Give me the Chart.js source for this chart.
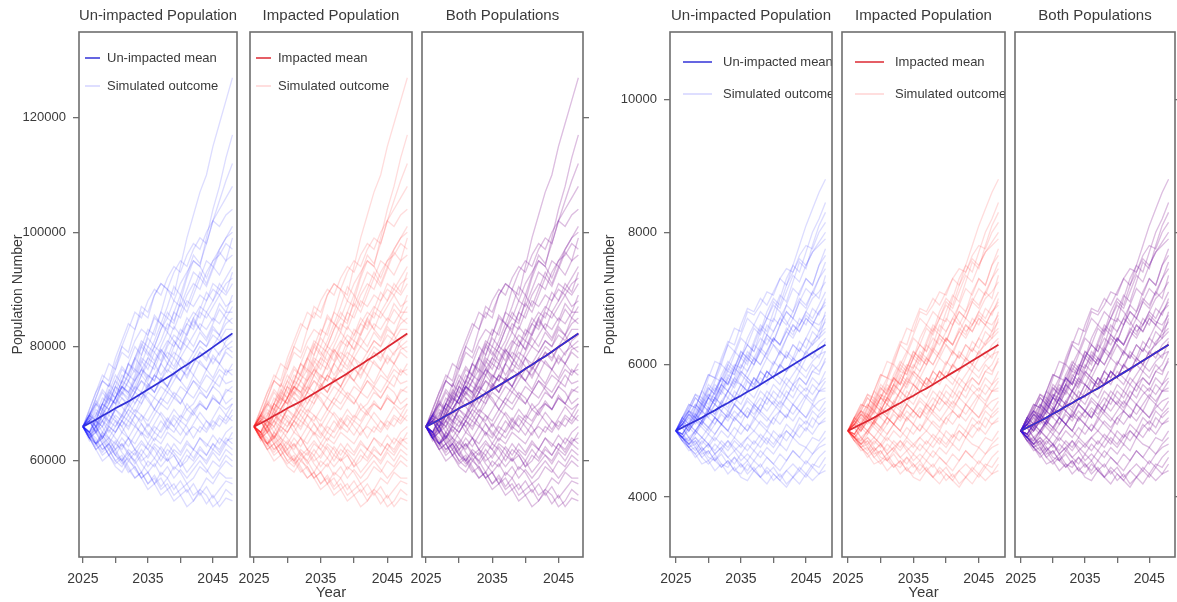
<!DOCTYPE html>
<html>
<head>
<meta charset="utf-8">
<title>Population projections</title>
<script src="https://cdn.jsdelivr.net/npm/chart.js@4"></script>
<style>
  html, body { margin: 0; padding: 0; background: #fff; overflow: hidden; }
  #wrap { position: relative; width: 1177px; height: 602px; overflow: hidden; }
  .panel { position: absolute; top: 0; }
</style>
</head>
<body>
<div id="wrap"></div>
<script>
// Years simulated and the year ticks along the bottom
const years = [2025, 2026, 2027, 2028, 2029, 2030, 2031, 2032, 2033, 2034, 2035, 2036,
               2037, 2038, 2039, 2040, 2041, 2042, 2043, 2044, 2045, 2046, 2047, 2048];
const yearTicks = [2025, 2030, 2035, 2040, 2045];
const labelledYears = [2025, 2035, 2045];

const panelTitles = ['Un-impacted Population', 'Impacted Population', 'Both Populations'];
const legendUn = ['Un-impacted mean', 'Simulated outcome'];
const legendImp = ['Impacted mean', 'Simulated outcome'];

// ---- large population ----
const largeTicks = [60000, 80000, 100000, 120000];
const largeMean = [66000, 66600, 67200, 67900, 68500, 69200, 69800, 70400, 71100, 71800, 72500, 73200,
                   73900, 74600, 75300, 76100, 76800, 77600, 78300, 79100, 79900, 80700, 81500, 82300];
const largeRuns = [
  [66000, 68000, 67000, 70000, 72000, 71000, 74000, 77000, 76000, 80000, 83000, 82000, 86000, 90000, 89000, 94000, 99000, 103000, 107000, 110000, 115000, 119000, 123000, 127000],
  [66000, 64000, 66000, 69000, 68000, 71000, 73000, 72000, 75000, 78000, 77000, 80000, 83000, 85000, 84000, 88000, 92000, 95000, 94000, 99000, 104000, 108000, 113000, 117000],
  [66000, 69000, 72000, 74000, 73000, 77000, 80000, 79000, 83000, 86000, 85000, 89000, 91000, 90000, 93000, 95000, 94000, 97000, 99000, 98000, 102000, 104000, 106000, 108000],
  [66000, 68000, 71000, 74000, 77000, 76000, 80000, 83000, 86000, 85000, 88000, 90000, 89000, 92000, 94000, 93000, 96000, 98000, 97000, 100000, 102000, 101000, 103000, 104000],
  [66000, 65000, 67000, 66000, 69000, 71000, 73000, 72000, 74000, 77000, 80000, 79000, 81000, 84000, 83000, 86000, 89000, 91000, 90000, 93000, 95000, 97000, 99000, 100000],
  [66000, 69000, 72000, 75000, 74000, 78000, 81000, 84000, 83000, 87000, 86000, 89000, 91000, 90000, 88000, 91000, 93000, 95000, 94000, 92000, 95000, 96000, 98000, 97000],
  [66000, 64000, 63000, 65000, 67000, 66000, 68000, 71000, 73000, 72000, 75000, 74000, 77000, 80000, 82000, 81000, 84000, 86000, 85000, 88000, 91000, 90000, 92000, 94000],
  [66000, 67000, 66000, 68000, 70000, 73000, 72000, 74000, 76000, 75000, 78000, 80000, 79000, 77000, 80000, 83000, 82000, 85000, 87000, 86000, 88000, 90000, 89000, 91000],
  [66000, 68000, 67000, 70000, 69000, 71000, 74000, 73000, 72000, 75000, 77000, 76000, 79000, 81000, 80000, 82000, 84000, 83000, 86000, 85000, 87000, 89000, 87000, 88000],
  [66000, 65000, 66000, 64000, 66000, 68000, 67000, 69000, 71000, 70000, 73000, 72000, 74000, 76000, 75000, 78000, 77000, 79000, 81000, 80000, 83000, 82000, 84000, 85000],
  [66000, 67000, 69000, 68000, 70000, 72000, 71000, 70000, 72000, 74000, 73000, 75000, 74000, 77000, 76000, 78000, 80000, 79000, 81000, 80000, 82000, 81000, 83000, 83000],
  [66000, 64000, 65000, 67000, 66000, 65000, 67000, 69000, 68000, 70000, 72000, 71000, 73000, 72000, 74000, 76000, 75000, 77000, 79000, 78000, 80000, 82000, 80000, 81000],
  [66000, 68000, 70000, 69000, 71000, 70000, 73000, 75000, 74000, 76000, 78000, 77000, 75000, 77000, 79000, 78000, 76000, 78000, 80000, 79000, 77000, 79000, 80000, 79000],
  [66000, 65000, 63000, 64000, 66000, 65000, 67000, 66000, 68000, 67000, 69000, 71000, 70000, 72000, 71000, 73000, 72000, 74000, 73000, 75000, 74000, 76000, 75000, 77000],
  [66000, 67000, 65000, 66000, 68000, 67000, 65000, 67000, 69000, 68000, 66000, 68000, 70000, 69000, 71000, 70000, 72000, 71000, 73000, 72000, 74000, 73000, 76000, 75000],
  [66000, 64000, 62000, 63000, 61000, 63000, 62000, 64000, 63000, 65000, 64000, 66000, 65000, 67000, 66000, 68000, 67000, 69000, 70000, 69000, 71000, 70000, 72000, 73000],
  [66000, 67000, 68000, 70000, 69000, 71000, 73000, 72000, 70000, 72000, 71000, 69000, 71000, 70000, 72000, 71000, 69000, 70000, 72000, 71000, 73000, 72000, 70000, 71000],
  [66000, 65000, 64000, 62000, 63000, 61000, 60000, 62000, 61000, 63000, 62000, 64000, 63000, 65000, 64000, 63000, 65000, 66000, 65000, 67000, 66000, 68000, 67000, 69000],
  [66000, 68000, 66000, 67000, 65000, 67000, 66000, 64000, 66000, 65000, 63000, 65000, 64000, 66000, 65000, 67000, 66000, 64000, 66000, 65000, 67000, 66000, 68000, 67000],
  [66000, 64000, 63000, 61000, 62000, 60000, 59000, 61000, 60000, 58000, 60000, 59000, 61000, 60000, 62000, 61000, 63000, 62000, 64000, 63000, 62000, 64000, 63000, 65000],
  [66000, 65000, 67000, 66000, 64000, 63000, 65000, 64000, 62000, 61000, 63000, 62000, 60000, 62000, 61000, 59000, 61000, 60000, 62000, 61000, 63000, 62000, 64000, 63000],
  [66000, 64000, 62000, 60000, 61000, 59000, 58000, 60000, 59000, 57000, 58000, 56000, 58000, 57000, 59000, 58000, 56000, 57000, 59000, 58000, 60000, 59000, 61000, 60000],
  [66000, 65000, 63000, 64000, 62000, 60000, 61000, 59000, 57000, 58000, 56000, 57000, 55000, 56000, 54000, 55000, 56000, 54000, 55000, 57000, 56000, 58000, 57000, 57000],
  [66000, 64000, 65000, 63000, 61000, 62000, 60000, 58000, 59000, 57000, 55000, 56000, 54000, 55000, 53000, 54000, 52000, 53000, 55000, 54000, 52000, 53000, 55000, 54000],
  [66000, 68000, 71000, 74000, 73000, 76000, 79000, 78000, 81000, 83000, 82000, 85000, 84000, 83000, 86000, 85000, 88000, 87000, 89000, 88000, 90000, 89000, 91000, 92000],
  [66000, 67000, 65000, 68000, 71000, 70000, 72000, 71000, 74000, 76000, 75000, 74000, 77000, 79000, 78000, 81000, 80000, 82000, 84000, 83000, 85000, 84000, 86000, 86000],
  [66000, 64000, 66000, 68000, 67000, 69000, 68000, 70000, 72000, 71000, 73000, 75000, 74000, 73000, 75000, 74000, 76000, 78000, 77000, 76000, 78000, 77000, 79000, 78000],
  [66000, 65000, 67000, 65000, 64000, 66000, 68000, 67000, 66000, 68000, 67000, 69000, 68000, 66000, 68000, 67000, 69000, 68000, 70000, 69000, 71000, 70000, 69000, 70000],
  [66000, 67000, 65000, 63000, 64000, 62000, 63000, 61000, 62000, 60000, 61000, 63000, 62000, 60000, 61000, 59000, 60000, 62000, 61000, 60000, 62000, 61000, 63000, 62000],
  [66000, 65000, 68000, 71000, 70000, 73000, 76000, 75000, 78000, 81000, 80000, 83000, 86000, 85000, 88000, 87000, 90000, 93000, 92000, 95000, 94000, 97000, 99000, 101000],
  [66000, 68500, 67000, 70000, 73500, 72000, 75000, 74000, 77500, 80000, 78500, 81000, 84000, 82500, 86000, 89000, 87000, 90000, 93000, 91000, 94000, 92500, 95000, 96000],
  [66000, 63500, 65500, 68000, 66500, 69500, 72000, 70500, 73000, 76000, 74000, 77000, 79500, 78000, 81000, 79500, 82500, 85000, 83000, 86000, 84500, 87500, 86000, 89000],
  [66000, 67500, 70000, 68500, 71500, 74000, 72500, 75500, 78000, 76500, 74500, 77000, 79500, 78000, 76500, 79000, 81500, 80000, 82500, 81000, 83500, 82000, 85000, 84000],
  [66000, 64500, 66000, 64000, 66500, 69000, 67500, 70000, 68500, 71000, 73500, 72000, 74500, 73000, 75500, 74000, 76500, 75000, 77500, 76000, 78500, 77000, 79500, 80000],
  [66000, 67500, 69500, 72000, 70500, 73000, 71500, 74000, 72500, 75000, 73500, 72000, 74500, 73000, 75500, 74000, 72500, 75000, 73500, 76000, 74500, 77000, 75500, 76000],
  [66000, 64000, 62500, 64500, 63000, 65000, 67000, 65500, 68000, 66500, 64500, 66500, 68500, 67000, 69000, 67500, 70000, 68500, 70500, 69000, 71500, 70000, 72500, 72000],
  [66000, 67000, 65000, 67000, 69000, 67500, 66000, 68000, 66500, 64500, 66500, 65000, 67000, 65500, 67500, 66000, 64500, 66500, 68500, 67000, 65500, 67500, 66500, 68000],
  [66000, 65000, 63000, 64500, 62500, 61000, 63000, 61500, 60000, 62000, 60500, 62500, 61000, 63000, 61500, 60000, 62000, 60500, 62500, 61000, 63000, 61500, 63500, 64000],
  [66000, 64500, 65500, 63500, 62000, 63500, 61500, 60000, 61500, 59500, 58000, 59500, 57500, 59000, 57000, 58500, 57000, 58500, 60000, 58500, 57000, 58500, 60000, 59000],
  [66000, 64000, 62000, 63000, 61000, 59500, 60500, 58500, 57000, 58000, 56000, 57500, 55500, 57000, 55000, 56500, 54500, 56000, 54000, 55500, 53500, 55000, 56500, 56000],
  [66000, 68000, 70500, 69000, 72000, 75000, 73500, 77000, 80000, 78500, 82000, 85500, 84000, 87000, 90500, 89000, 92500, 96000, 94500, 98000, 102000, 105500, 109000, 112000],
  [66000, 65000, 67500, 70000, 72500, 71000, 74000, 77000, 75500, 78500, 81500, 80000, 83000, 86000, 84500, 87500, 86000, 89000, 92000, 90500, 93500, 96500, 95000, 99000],
  [66000, 67500, 66000, 69000, 71500, 70000, 73000, 71500, 74500, 77500, 76000, 79000, 77500, 80500, 83500, 82000, 85000, 83500, 86500, 89500, 88000, 91000, 89500, 93000],
  [66000, 68000, 70000, 72500, 71000, 74000, 76500, 75000, 78000, 80500, 79000, 77500, 80000, 82500, 81000, 79500, 82000, 84500, 83000, 81500, 84000, 86500, 85000, 87000],
  [66000, 64500, 66500, 68500, 67000, 69000, 71000, 69500, 72000, 74000, 72500, 75000, 77000, 75500, 78000, 76500, 74500, 77000, 79000, 77500, 80000, 78500, 81000, 82000],
  [66000, 67000, 68500, 67000, 69000, 71000, 69500, 68000, 70000, 72000, 70500, 69000, 71000, 73000, 71500, 70000, 72000, 74000, 72500, 71000, 73000, 75000, 73500, 74000],
  [66000, 64500, 63000, 65000, 63500, 62000, 64000, 62500, 64500, 66500, 65000, 63500, 65500, 67500, 66000, 64500, 66500, 68500, 67000, 65500, 67500, 69500, 68000, 70000],
  [66000, 67500, 66000, 64000, 65500, 64000, 62500, 64000, 62000, 63500, 62000, 60500, 62500, 61000, 63000, 61500, 63500, 62000, 64000, 62500, 64500, 63000, 65000, 66000],
  [66000, 64500, 63000, 61500, 63000, 61500, 60000, 61500, 59500, 61000, 59000, 60500, 59000, 60500, 58500, 60000, 58000, 59500, 61000, 59500, 61500, 60000, 62000, 61000],
  [66000, 65000, 63500, 62000, 63000, 61000, 59500, 60500, 58500, 57000, 58000, 56000, 57000, 55000, 56000, 54000, 55000, 53000, 54500, 52500, 54000, 52000, 53500, 53000]
];

// ---- small population ----
const smallTicks = [4000, 6000, 8000, 10000];
const smallMean = [5000, 5050, 5100, 5150, 5200, 5260, 5310, 5370, 5420, 5480, 5530, 5590,
                   5640, 5700, 5760, 5820, 5880, 5940, 6000, 6060, 6120, 6180, 6240, 6300];
const smallRuns = [
  [5000, 5100, 5250, 5200, 5400, 5550, 5500, 5700, 5900, 5850, 6100, 6300, 6200, 6500, 6700, 6650, 7000, 7300, 7500, 7800, 8100, 8350, 8600, 8800],
  [5000, 5200, 5300, 5500, 5400, 5600, 5800, 5750, 6000, 6200, 6100, 6400, 6600, 6500, 6800, 7000, 6900, 7200, 7500, 7400, 7700, 8000, 8200, 8450],
  [5000, 5150, 5350, 5550, 5500, 5800, 6050, 6000, 6300, 6550, 6500, 6800, 6750, 6900, 7100, 7050, 7300, 7450, 7400, 7650, 7800, 7750, 8000, 8150],
  [5000, 5200, 5400, 5350, 5600, 5850, 5800, 6100, 6350, 6300, 6600, 6850, 6800, 7000, 6900, 7100, 7300, 7200, 7400, 7600, 7500, 7700, 7800, 7900],
  [5000, 5050, 5200, 5400, 5300, 5500, 5700, 5600, 5800, 6000, 5950, 6200, 6100, 6300, 6600, 6500, 6700, 6900, 6800, 7100, 7300, 7200, 7500, 7650],
  [5000, 5200, 5100, 5300, 5500, 5400, 5600, 5800, 6000, 5900, 6100, 6300, 6200, 6400, 6300, 6500, 6700, 6600, 6800, 7000, 6900, 7100, 7300, 7450],
  [5000, 4900, 5050, 5200, 5100, 5300, 5500, 5400, 5600, 5750, 5700, 5900, 6100, 6000, 6200, 6400, 6300, 6500, 6700, 6600, 6800, 7000, 7100, 7250],
  [5000, 5100, 5000, 5200, 5400, 5300, 5500, 5700, 5600, 5800, 6000, 5900, 6100, 6000, 6200, 6400, 6300, 6500, 6400, 6600, 6800, 6700, 6900, 7100],
  [5000, 5150, 5300, 5200, 5350, 5500, 5400, 5600, 5500, 5700, 5900, 5800, 6000, 6200, 6100, 6300, 6200, 6400, 6600, 6500, 6700, 6600, 6800, 6950],
  [5000, 4900, 5000, 5150, 5100, 5250, 5400, 5300, 5500, 5400, 5600, 5800, 5700, 5900, 5800, 6000, 6200, 6100, 6300, 6200, 6400, 6600, 6500, 6800],
  [5000, 5100, 5200, 5100, 5300, 5500, 5400, 5600, 5800, 5700, 5900, 5800, 5700, 5900, 6100, 6000, 6200, 6100, 6300, 6200, 6400, 6300, 6500, 6650],
  [5000, 4950, 5100, 5000, 5150, 5300, 5200, 5400, 5300, 5500, 5400, 5600, 5500, 5700, 5900, 5800, 6000, 5900, 6100, 6000, 6200, 6300, 6400, 6500],
  [5000, 5150, 5050, 5200, 5100, 5300, 5500, 5400, 5600, 5500, 5700, 5600, 5800, 5700, 5900, 5800, 5700, 5900, 6000, 5900, 6100, 6200, 6100, 6350],
  [5000, 4900, 4800, 4950, 5100, 5000, 5200, 5100, 5000, 5200, 5300, 5200, 5400, 5300, 5500, 5400, 5600, 5500, 5700, 5800, 5700, 5900, 6000, 6200],
  [5000, 5100, 5000, 5150, 5300, 5200, 5100, 5300, 5200, 5400, 5300, 5500, 5400, 5600, 5500, 5700, 5600, 5800, 5700, 5900, 5800, 6000, 5900, 6050],
  [5000, 4950, 5100, 5000, 4900, 5050, 5200, 5100, 5300, 5200, 5100, 5300, 5200, 5400, 5600, 5500, 5400, 5600, 5500, 5700, 5600, 5800, 5700, 5900],
  [5000, 5100, 5250, 5150, 5300, 5200, 5400, 5300, 5200, 5400, 5300, 5200, 5400, 5300, 5500, 5400, 5300, 5500, 5700, 5600, 5500, 5700, 5600, 5750],
  [5000, 4900, 4850, 5000, 4900, 4800, 4950, 5100, 5000, 4900, 5100, 5000, 5200, 5100, 5000, 5200, 5300, 5200, 5400, 5300, 5500, 5400, 5600, 5600],
  [5000, 5050, 4900, 5000, 5150, 5050, 4950, 5100, 5000, 5200, 5100, 5000, 5150, 5300, 5200, 5100, 5300, 5200, 5400, 5300, 5200, 5400, 5300, 5450],
  [5000, 4900, 4800, 4700, 4850, 4750, 4900, 4800, 4700, 4850, 4750, 4900, 5000, 4900, 4800, 5000, 4900, 5100, 5000, 5200, 5100, 5300, 5200, 5300],
  [5000, 4950, 4800, 4900, 4750, 4650, 4800, 4700, 4850, 4750, 4650, 4800, 4700, 4850, 5000, 4900, 4800, 5000, 4900, 5100, 5000, 5200, 5100, 5150],
  [5000, 4850, 4750, 4650, 4750, 4600, 4550, 4700, 4600, 4500, 4650, 4550, 4700, 4600, 4750, 4650, 4800, 4700, 4900, 4800, 4750, 4900, 4850, 5000],
  [5000, 4900, 4750, 4600, 4700, 4550, 4650, 4500, 4450, 4600, 4500, 4400, 4550, 4450, 4600, 4500, 4400, 4550, 4700, 4600, 4500, 4650, 4750, 4800],
  [5000, 4850, 4700, 4750, 4600, 4500, 4600, 4450, 4550, 4400, 4350, 4500, 4400, 4300, 4450, 4350, 4250, 4400, 4300, 4450, 4350, 4500, 4450, 4600],
  [5000, 4900, 4750, 4650, 4500, 4550, 4400, 4500, 4350, 4450, 4300, 4250, 4400, 4300, 4200, 4350, 4250, 4150, 4300, 4200, 4350, 4250, 4350, 4400],
  [5000, 5200, 5400, 5350, 5600, 5850, 5800, 6050, 6300, 6200, 6450, 6700, 6600, 6800, 6700, 6900, 6800, 6650, 6500, 6600, 6750, 6650, 6600, 6750],
  [5000, 5150, 5050, 5250, 5450, 5350, 5600, 5800, 5700, 5950, 6200, 6100, 6350, 6600, 6500, 6800, 7050, 6950, 7250, 7550, 7450, 7800, 8100, 8300],
  [5000, 4950, 5150, 5350, 5250, 5500, 5450, 5700, 5950, 5850, 6100, 6000, 6300, 6550, 6450, 6700, 6600, 6900, 7150, 7050, 7300, 7200, 7500, 7750],
  [5000, 5150, 5300, 5250, 5450, 5650, 5550, 5800, 5700, 5950, 6150, 6050, 6300, 6200, 6450, 6350, 6600, 6800, 6700, 6950, 6850, 7100, 7000, 7350],
  [5000, 5100, 5300, 5500, 5400, 5650, 5550, 5800, 5700, 5950, 5850, 6100, 6000, 6250, 6150, 6400, 6300, 6550, 6450, 6700, 6600, 6850, 6750, 7000],
  [5000, 4900, 5050, 4950, 5150, 5350, 5250, 5450, 5350, 5600, 5500, 5750, 5650, 5900, 5800, 6050, 5950, 6200, 6100, 6350, 6250, 6500, 6400, 6700],
  [5000, 5150, 5300, 5200, 5400, 5300, 5500, 5700, 5600, 5800, 5700, 5600, 5800, 5700, 5900, 5800, 6000, 5900, 6100, 6000, 6200, 6100, 6300, 6400],
  [5000, 4950, 4850, 5000, 5150, 5050, 5200, 5100, 5250, 5150, 5300, 5450, 5350, 5500, 5400, 5600, 5500, 5700, 5600, 5800, 5700, 5900, 5850, 6100],
  [5000, 5100, 5000, 5150, 5050, 4950, 5100, 5250, 5150, 5300, 5200, 5350, 5250, 5400, 5300, 5450, 5350, 5500, 5400, 5550, 5650, 5550, 5700, 5800],
  [5000, 4900, 4800, 4900, 4800, 4950, 4850, 5000, 4900, 5050, 4950, 5100, 5000, 5150, 5050, 5200, 5100, 5250, 5150, 5300, 5200, 5350, 5450, 5500],
  [5000, 5050, 4900, 4800, 4900, 4800, 4700, 4850, 4750, 4900, 4800, 4700, 4850, 4750, 4900, 4800, 4950, 4850, 5000, 4900, 5050, 4950, 5100, 5200],
  [5000, 4900, 4800, 4850, 4700, 4800, 4650, 4750, 4600, 4700, 4550, 4650, 4550, 4700, 4600, 4500, 4650, 4550, 4700, 4600, 4750, 4650, 4800, 4900],
  [5000, 4850, 4900, 4750, 4600, 4700, 4550, 4450, 4550, 4400, 4500, 4350, 4450, 4300, 4400, 4250, 4350, 4200, 4300, 4400, 4300, 4450, 4350, 4500],
  [5000, 5200, 5350, 5550, 5450, 5700, 5600, 5850, 6050, 5950, 6200, 6100, 6000, 6200, 6400, 6300, 6150, 6400, 6600, 6500, 6700, 6600, 6800, 6900],
  [5000, 5100, 5250, 5400, 5300, 5500, 5650, 5550, 5750, 5650, 5850, 5750, 5650, 5800, 5700, 5900, 5800, 5700, 5850, 6000, 5900, 6050, 6150, 6200],
  [5000, 4950, 5100, 5250, 5150, 5300, 5200, 5100, 5250, 5400, 5300, 5200, 5350, 5250, 5150, 5300, 5450, 5350, 5250, 5400, 5550, 5450, 5600, 5650],
  [5000, 4850, 4750, 4850, 4700, 4800, 4650, 4750, 4850, 4700, 4800, 4900, 4800, 4950, 4850, 4750, 4900, 5000, 4900, 5050, 5150, 5050, 5250, 5350],
  [5000, 5100, 5250, 5150, 5350, 5550, 5450, 5650, 5850, 5750, 5950, 6150, 6050, 6250, 6450, 6350, 6600, 6800, 6700, 6950, 7150, 7050, 7300, 7550],
  [5000, 4950, 5100, 5250, 5150, 5350, 5250, 5450, 5600, 5500, 5700, 5600, 5800, 5700, 5900, 5800, 6000, 6150, 6050, 6250, 6150, 6350, 6450, 6550],
  [5000, 4900, 4750, 4800, 4650, 4700, 4550, 4650, 4500, 4600, 4450, 4550, 4400, 4500, 4350, 4450, 4300, 4400, 4500, 4400, 4550, 4450, 4600, 4700],
  [5000, 5200, 5100, 5350, 5600, 5500, 5750, 6000, 5900, 6150, 6400, 6300, 6550, 6450, 6700, 6950, 6850, 7100, 7350, 7250, 7500, 7700, 7850, 8000]
];

// the impacted runs use the same draws as the un-impacted ones
const largeRunsImp = largeRuns;
const smallRunsImp = smallRuns;

const BLUE_RUN = 'rgba(20, 20, 255, 0.15)';
const RED_RUN = 'rgba(255, 20, 20, 0.15)';
const BLUE_MEAN = 'rgb(50, 50, 215)';
const RED_MEAN = 'rgb(220, 40, 50)';
const AXIS_GREY = '#6e6e6e';
const TEXT = '#3a3a3a';

Chart.defaults.font.family = '"Liberation Sans", Arial, Helvetica, sans-serif';
Chart.defaults.font.size = 13;
Chart.defaults.color = TEXT;

// frame round each panel plus the in-panel key, cut at the frame edge
const panelFrame = {
  id: 'panelFrame',
  afterDatasetsDraw(chart, args, opts) {
    const { ctx, chartArea: a } = chart;
    if (opts.entries) {
      ctx.save();
      ctx.beginPath();
      ctx.rect(a.left, a.top, a.right - a.left, a.bottom - a.top);
      ctx.clip();
      ctx.font = '13px "Liberation Sans", Arial, sans-serif';
      ctx.textBaseline = 'middle';
      opts.entries.forEach((e, i) => {
        const y = a.top + opts.rows[i];
        ctx.strokeStyle = e.color;
        ctx.lineWidth = 1.5;
        ctx.beginPath();
        ctx.moveTo(a.left + opts.line[0], y);
        ctx.lineTo(a.left + opts.line[1], y);
        ctx.stroke();
        ctx.fillStyle = TEXT;
        ctx.fillText(e.text, a.left + opts.textX, y);
      });
      ctx.restore();
    }
    ctx.save();
    ctx.strokeStyle = AXIS_GREY;
    ctx.lineWidth = 1.6;
    ctx.strokeRect(a.left, a.top, a.right - a.left, a.bottom - a.top);
    ctx.restore();
  }
};

function runSets(runs, colour) {
  return runs.map(r => ({
    data: years.map((yr, i) => ({ x: yr, y: r[i] })),
    borderColor: colour, borderWidth: 1.3
  }));
}
function meanSet(mean, colour) {
  return {
    data: years.map((yr, i) => ({ x: yr, y: mean[i] })),
    borderColor: colour, borderWidth: 1.8
  };
}

const groups = [
  {
    runs: largeRuns, runsImp: largeRunsImp, mean: largeMean, ticks: largeTicks,
    yMin: 43200, yMax: 135000, xMin: 2024.4, xMax: 2048.7, yTitlePad: 10,
    key: { rows: [26, 54], line: [6, 21], textX: 28 },
    panels: [
      { left: 0, width: 260, axisW: 79, padL: 0, padR: 23 },
      { left: 226, width: 210, padL: 24, padR: 24 },
      { left: 398, width: 222, axisW: 37, padL: 24, padR: 0 }
    ]
  },
  {
    runs: smallRuns, runsImp: smallRunsImp, mean: smallMean, ticks: smallTicks,
    yMin: 3095, yMax: 11025, xMin: 2024.1, xMax: 2049.0, yTitlePad: 12,
    key: { rows: [30, 62], line: [13, 42], textX: 53 },
    panels: [
      { left: 590, width: 266, axisW: 80, padL: 0, padR: 24 },
      { left: 818, width: 211, padL: 24, padR: 24 },
      { left: 991, width: 220, axisW: 36, padL: 24, padR: 0 }
    ]
  }
];

const wrap = document.getElementById('wrap');

groups.forEach(g => {
  g.panels.forEach((p, col) => {
    const holder = document.createElement('div');
    holder.className = 'panel';
    holder.style.left = p.left + 'px';
    const canvas = document.createElement('canvas');
    canvas.width = p.width;
    canvas.height = 602;
    canvas.style.width = p.width + 'px';
    canvas.style.height = '602px';
    holder.appendChild(canvas);
    wrap.appendChild(holder);

    // layers listed back to front
    let layers, entries = null;
    if (col === 0) {
      layers = [...runSets(g.runs, BLUE_RUN), meanSet(g.mean, BLUE_MEAN)];
      entries = [{ text: legendUn[0], color: BLUE_MEAN }, { text: legendUn[1], color: 'rgba(60, 60, 255, 0.22)' }];
    } else if (col === 1) {
      layers = [...runSets(g.runsImp, RED_RUN), meanSet(g.mean, RED_MEAN)];
      entries = [{ text: legendImp[0], color: RED_MEAN }, { text: legendImp[1], color: 'rgba(255, 60, 60, 0.22)' }];
    } else {
      layers = [...runSets(g.runsImp, RED_RUN), ...runSets(g.runs, BLUE_RUN),
                meanSet(g.mean, RED_MEAN), meanSet(g.mean, BLUE_MEAN)];
    }
    // Chart.js paints the first dataset last, so hand them over reversed
    const datasets = layers.reverse();

    const yAxis = {
      type: 'linear',
      display: col !== 1,
      position: col === 2 ? 'right' : 'left',
      min: g.yMin, max: g.yMax,
      afterBuildTicks: s => { s.ticks = g.ticks.map(v => ({ value: v })); },
      afterFit: s => { s.width = p.axisW || 0; },
      grid: { drawOnChartArea: false, drawTicks: true, tickLength: 6, color: AXIS_GREY, lineWidth: 1.3 },
      border: { display: false },
      ticks: { display: col === 0, padding: 7, font: { size: 13 }, callback: v => String(v) },
      title: { display: col === 0, text: 'Population Number', font: { size: 14 }, padding: { top: g.yTitlePad } }
    };

    new Chart(canvas, {
      type: 'line',
      data: { datasets },
      options: {
        responsive: false,
        animation: false,
        events: [],
        layout: { padding: { left: p.padL, right: p.padR, top: 0, bottom: 0 } },
        elements: { point: { radius: 0 }, line: { tension: 0 } },
        scales: {
          x: {
            type: 'linear',
            min: g.xMin, max: g.xMax,
            afterBuildTicks: s => { s.ticks = yearTicks.map(v => ({ value: v })); },
            afterFit: s => { s.height = 45; },
            grid: { drawOnChartArea: false, drawTicks: true, tickLength: 6, color: AXIS_GREY, lineWidth: 1.3 },
            border: { display: false },
            ticks: {
              padding: 8, maxRotation: 0, autoSkip: false, font: { size: 14 },
              callback: v => labelledYears.includes(v) ? String(v) : ''
            },
            title: { display: col === 1, text: 'Year', font: { size: 15 }, padding: { top: 0, bottom: 0 } }
          },
          y: yAxis
        },
        plugins: {
          legend: { display: false },
          tooltip: { enabled: false },
          title: {
            display: true, text: panelTitles[col], fullSize: false,
            font: { size: 15, weight: 'normal' }, color: TEXT,
            padding: { top: 7, bottom: 7 }
          },
          panelFrame: entries ? { entries, ...g.key } : {}
        }
      },
      plugins: [panelFrame]
    });
  });
});
</script>
</body>
</html>
